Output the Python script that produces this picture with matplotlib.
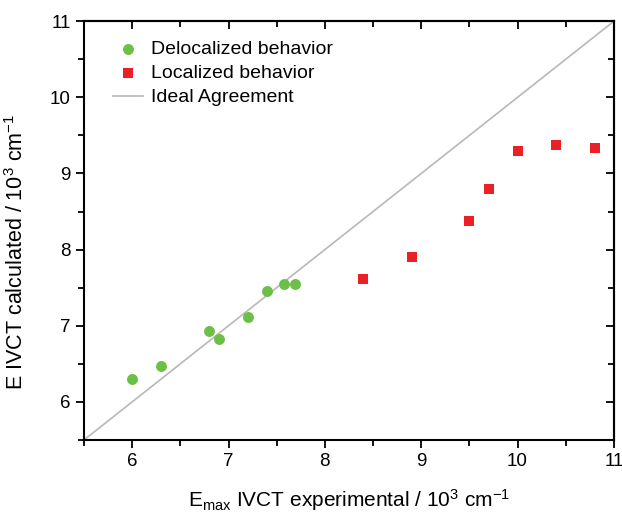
import matplotlib
matplotlib.use("Agg")
import matplotlib.pyplot as plt
from matplotlib.ticker import MultipleLocator

plt.rcParams['font.family'] = ['Liberation Sans', 'DejaVu Sans']
plt.rcParams['mathtext.default'] = 'regular'

deloc_x = [6.0, 6.3, 6.8, 6.9, 7.2, 7.4, 7.58, 7.69]
deloc_y = [6.30, 6.47, 6.93, 6.83, 7.11, 7.45, 7.55, 7.55]
loc_x = [8.4, 8.9, 9.5, 9.7, 10.0, 10.4, 10.8]
loc_y = [7.61, 7.90, 8.37, 8.79, 9.30, 9.38, 9.33]
ideal = [5.5, 11]

fig = plt.figure(figsize=(6.22, 5.17), dpi=100)
ax = fig.add_axes([0.135, 0.149, 0.852, 0.810])

ax.scatter(deloc_x, deloc_y, s=62, marker='o', color='#6cbf47', label='Delocalized behavior', zorder=3, linewidths=0)
ax.scatter(loc_x, loc_y, s=55, marker='s', color='#ec1f26', label='Localized behavior', zorder=3, linewidths=0)
ax.plot(ideal, ideal, color='#b8b8b8', lw=1.2, label='Ideal Agreement', zorder=2)

ax.set_xlim(5.5, 11)
ax.set_ylim(5.5, 11)
ax.xaxis.set_major_locator(MultipleLocator(1))
ax.xaxis.set_minor_locator(MultipleLocator(0.5))
ax.yaxis.set_major_locator(MultipleLocator(1))
ax.yaxis.set_minor_locator(MultipleLocator(0.5))
ax.tick_params(which='both', direction='out', top=False, right=False, labelsize=13.5, width=1.3)
ax.tick_params(which='major', length=6)
ax.tick_params(which='minor', length=4)
for s in ax.spines.values():
    s.set_linewidth(1.5)

# inward ticks on top and right
sec_x = ax.secondary_xaxis('top')
sec_x.xaxis.set_major_locator(MultipleLocator(1))
sec_x.xaxis.set_minor_locator(MultipleLocator(0.5))
sec_x.tick_params(which='both', direction='in', labeltop=False, width=1.3)
sec_x.tick_params(which='major', length=6)
sec_x.tick_params(which='minor', length=4)
sec_y = ax.secondary_yaxis('right')
sec_y.yaxis.set_major_locator(MultipleLocator(1))
sec_y.yaxis.set_minor_locator(MultipleLocator(0.5))
sec_y.tick_params(which='both', direction='in', labelright=False, width=1.3)
sec_y.tick_params(which='major', length=6)
sec_y.tick_params(which='minor', length=4)
sec_x.spines['top'].set_linewidth(1.5)
sec_y.spines['right'].set_linewidth(1.5)

ax.set_xlabel('E$_{max}$ IVCT experimental / 10$^{3}$ cm$^{-1}$', fontsize=15, labelpad=12)
ax.set_ylabel('E IVCT calculated / 10$^{3}$ cm$^{-1}$', fontsize=15.5, labelpad=10)
ax.yaxis.set_label_coords(-0.105, 0.45)

ax.legend(loc='upper left', frameon=False, fontsize=14, handlelength=1.55,
          borderaxespad=0, borderpad=0, labelspacing=0.35, handletextpad=0.4,
          bbox_to_anchor=(0.055, 0.955))

fig.savefig('out.png', dpi=100)
